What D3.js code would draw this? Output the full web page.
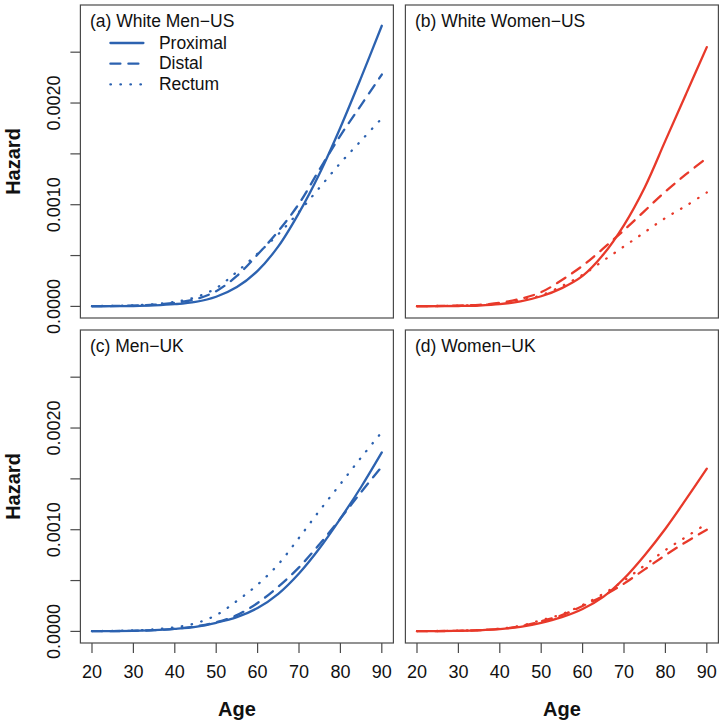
<!DOCTYPE html>
<html>
<head>
<meta charset="utf-8">
<script src="https://cdn.jsdelivr.net/npm/d3@7"></script>
<style>
  html, body { margin: 0; padding: 0; background: #fff; }
  svg { display: block; font-family: "Liberation Sans", Arial, Helvetica, sans-serif; }
</style>
</head>
<body>
<svg id="chart" width="724" height="725"></svg>
<script>
// ---- Data (hazard by age) ----
const ages = [20, 25, 30, 35, 40, 45, 50, 55, 60, 65, 70, 75, 80, 85, 90];

const whiteMenUS_proximal = [0.000001, 0.000002, 0.000004, 0.000010, 0.000022, 0.000045, 0.000095, 0.00019, 0.00035, 0.00059, 0.00092, 0.00131, 0.00176, 0.00225, 0.00276];
const whiteMenUS_distal   = [0.000002, 0.000004, 0.000008, 0.000017, 0.000035, 0.000070, 0.00015, 0.00030, 0.00051, 0.00074, 0.00101, 0.00135, 0.00168, 0.00198, 0.00228];
const whiteMenUS_rectum   = [0.000003, 0.000006, 0.000011, 0.000022, 0.000045, 0.000090, 0.00018, 0.00034, 0.00052, 0.00071, 0.00093, 0.00117, 0.00141, 0.00163, 0.00185];

const whiteWomenUS_proximal = [0.000001, 0.000002, 0.000004, 0.000009, 0.000022, 0.000050, 0.00010, 0.00018, 0.00030, 0.00051, 0.00080, 0.00117, 0.00163, 0.00209, 0.00255];
const whiteWomenUS_distal   = [0.000002, 0.000004, 0.000008, 0.000016, 0.000035, 0.000075, 0.00014, 0.00026, 0.00040, 0.00057, 0.00075, 0.00094, 0.00113, 0.00130, 0.00146];
const whiteWomenUS_rectum   = [0.000002, 0.000004, 0.000007, 0.000014, 0.000028, 0.000058, 0.00011, 0.00020, 0.00031, 0.00045, 0.00059, 0.00073, 0.00087, 0.00099, 0.00112];

const menUK_proximal = [0.000002, 0.000003, 0.000006, 0.000012, 0.000025, 0.000045, 0.000085, 0.00014, 0.00023, 0.00037, 0.00057, 0.00082, 0.00111, 0.00142, 0.00176];
const menUK_distal   = [0.000002, 0.000003, 0.000006, 0.000012, 0.000025, 0.000050, 0.000090, 0.00016, 0.00028, 0.00044, 0.00063, 0.00086, 0.00111, 0.00137, 0.00162];
const menUK_rectum   = [0.000003, 0.000005, 0.000010, 0.000020, 0.000040, 0.000080, 0.00016, 0.00030, 0.00046, 0.00066, 0.00092, 0.00119, 0.00145, 0.00171, 0.00196];

const womenUK_proximal = [0.000002, 0.000003, 0.000006, 0.000011, 0.000022, 0.000045, 0.000085, 0.00014, 0.00022, 0.00034, 0.00052, 0.00075, 0.00101, 0.00130, 0.00160];
const womenUK_distal   = [0.000002, 0.000003, 0.000006, 0.000012, 0.000025, 0.000050, 0.00010, 0.00016, 0.00025, 0.00035, 0.00047, 0.00061, 0.00075, 0.00088, 0.00100];
const womenUK_rectum   = [0.000002, 0.000004, 0.000007, 0.000013, 0.000027, 0.000055, 0.00011, 0.00017, 0.00026, 0.00037, 0.00050, 0.00065, 0.00080, 0.00093, 0.00106];

const seriesNames = ["Proximal", "Distal", "Rectum"];
const panelTitles = ["(a) White Men\u2212US", "(b) White Women\u2212US", "(c) Men\u2212UK", "(d) Women\u2212UK"];
const xTicks = [20, 30, 40, 50, 60, 70, 80, 90];
const yTicks = [0, 0.0005, 0.0010, 0.0015, 0.0020, 0.0025];
const yTickLabels = ["0.0000", "", "0.0010", "", "0.0020", ""];

const blue = "#2c62b0";
const red = "#e8392a";

const panels = [
  { title: panelTitles[0], color: blue, data: [whiteMenUS_proximal, whiteMenUS_distal, whiteMenUS_rectum], col: 0, row: 0, legend: true },
  { title: panelTitles[1], color: red,  data: [whiteWomenUS_proximal, whiteWomenUS_distal, whiteWomenUS_rectum], col: 1, row: 0 },
  { title: panelTitles[2], color: blue, data: [menUK_proximal, menUK_distal, menUK_rectum], col: 0, row: 1 },
  { title: panelTitles[3], color: red,  data: [womenUK_proximal, womenUK_distal, womenUK_rectum], col: 1, row: 1 },
];

// ---- Layout ----
const panelW = 313, panelH = 313;
const lefts = [80.4, 405.4];
const tops = [5, 330];
const dashes = [null, "10,8", "0.5,9.5"];

const svg = d3.select("#chart");
const yMax = 0.00285;
const xDomain = [20 - 0.04 * 70, 90 + 0.04 * 70];
const yDomain = [-0.04 * yMax, 1.04 * yMax];

const fontTick = 18;

panels.forEach(p => {
  const x0 = lefts[p.col], y0 = tops[p.row];
  const x = d3.scaleLinear().domain(xDomain).range([x0, x0 + panelW]);
  const y = d3.scaleLinear().domain(yDomain).range([y0 + panelH, y0]);
  const g = svg.append("g");

  const line = d3.line()
    .x((d, i) => x(ages[i]))
    .y(d => y(d))
    .curve(d3.curveCatmullRom.alpha(0.5));

  p.data.forEach((vals, si) => {
    g.append("path")
      .datum(vals)
      .attr("d", line)
      .attr("fill", "none")
      .attr("stroke", p.color)
      .attr("stroke-width", 2.3)
      .attr("stroke-linecap", "round")
      .attr("stroke-dasharray", dashes[si]);
  });

  // frame
  g.append("rect")
    .attr("x", x0).attr("y", y0)
    .attr("width", panelW).attr("height", panelH)
    .attr("fill", "none").attr("stroke", "#4a4a4a").attr("stroke-width", 1.2);

  // panel title
  g.append("text")
    .attr("x", x0 + 9.5).attr("y", y0 + 22)
    .attr("font-size", 17.5)
    .attr("fill", "#111")
    .text(p.title);

  // y-axis (left column)
  if (p.col === 0) {
    const yAxis = g.append("g");
    yTicks.forEach((t, i) => {
      yAxis.append("line")
        .attr("x1", x0).attr("x2", x0 - 10)
        .attr("y1", y(t)).attr("y2", y(t))
        .attr("stroke", "#4a4a4a").attr("stroke-width", 1.2);
      if (yTickLabels[i]) {
        yAxis.append("text")
          .attr("transform", `translate(${x0 - 20},${y(t)}) rotate(-90)`)
          .attr("text-anchor", "middle")
          .attr("font-size", fontTick)
          .attr("fill", "#111")
          .text(yTickLabels[i]);
      }
    });
    g.append("text")
      .attr("transform", `translate(20,${y0 + panelH / 2}) rotate(-90)`)
      .attr("text-anchor", "middle")
      .attr("font-size", 20)
      .attr("font-weight", "bold")
      .attr("fill", "#111")
      .text("Hazard");
  }

  // x-axis (bottom row)
  if (p.row === 1) {
    const yb = y0 + panelH;
    xTicks.forEach(t => {
      g.append("line")
        .attr("x1", x(t)).attr("x2", x(t))
        .attr("y1", yb).attr("y2", yb + 10)
        .attr("stroke", "#4a4a4a").attr("stroke-width", 1.2);
      g.append("text")
        .attr("x", x(t)).attr("y", yb + 35)
        .attr("text-anchor", "middle")
        .attr("font-size", fontTick)
        .attr("fill", "#111")
        .text(t);
    });
    g.append("text")
      .attr("x", x0 + panelW / 2).attr("y", 716)
      .attr("text-anchor", "middle")
      .attr("font-size", 20)
      .attr("font-weight", "bold")
      .attr("fill", "#111")
      .text("Age");
  }

  // legend
  if (p.legend) {
    seriesNames.forEach((name, si) => {
      const ly = y0 + 38 + si * 20.7;
      g.append("line")
        .attr("x1", x0 + 30).attr("x2", x0 + 63)
        .attr("y1", ly).attr("y2", ly)
        .attr("stroke", p.color)
        .attr("stroke-width", 2.3)
        .attr("stroke-linecap", "round")
        .attr("stroke-dasharray", dashes[si]);
      g.append("text")
        .attr("x", x0 + 78.5).attr("y", ly + 5.5)
        .attr("font-size", 17.5)
        .attr("fill", "#111")
        .text(name);
    });
  }
});
</script>
</body>
</html>
